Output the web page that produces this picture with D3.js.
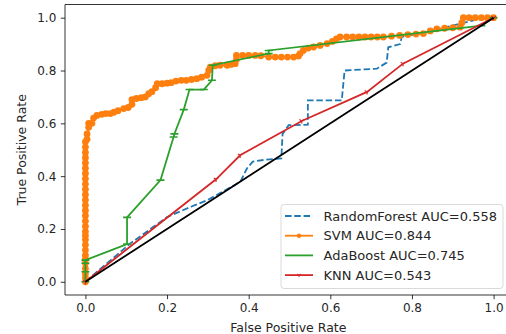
<!DOCTYPE html>
<html>
<head>
<meta charset="utf-8">
<script src="https://cdn.jsdelivr.net/npm/d3@7/dist/d3.min.js"></script>
<style>
  body { margin: 0; background: #fff; }
  svg { display: block; font-family: "DejaVu Sans", sans-serif; }
</style>
</head>
<body>
<script>
// ROC curves
const rfFpr = [0, 0.03, 0.11, 0.2, 0.26, 0.3, 0.37, 0.38, 0.396, 0.41, 0.44, 0.48, 0.483, 0.498, 0.545, 0.545, 0.628, 0.635, 0.714, 0.738, 0.742, 0.771, 0.775, 0.836, 0.967, 1];
const rfTpr = [0, 0.04, 0.145, 0.245, 0.285, 0.31, 0.37, 0.38, 0.43, 0.455, 0.462, 0.467, 0.56, 0.593, 0.595, 0.687, 0.687, 0.8, 0.807, 0.83, 0.888, 0.9, 0.927, 0.946, 0.996, 1];

const svmFpr = [0, 0, 0, 0, 0, 0, 0, 0, 0, 0, 0, 0, 0, 0, 0, 0, 0, 0, 0, 0, 0, 0, 0, 0, 0, 0, 0, 0, 0,
  0.004, 0.004, 0.008, 0.008, 0.016, 0.02, 0.028, 0.04, 0.05, 0.061, 0.07, 0.08, 0.094, 0.105, 0.114, 0.114,
  0.125, 0.137, 0.147, 0.155, 0.163, 0.172, 0.176, 0.188, 0.2, 0.21, 0.222, 0.235, 0.247, 0.26, 0.273, 0.285,
  0.298, 0.302, 0.306, 0.318, 0.33, 0.347, 0.357, 0.367, 0.37, 0.37, 0.385, 0.4, 0.416, 0.43, 0.449, 0.465,
  0.48, 0.495, 0.51, 0.522, 0.526, 0.534, 0.546, 0.559, 0.575, 0.592, 0.605, 0.615, 0.624, 0.64, 0.655, 0.67,
  0.685, 0.7, 0.715, 0.73, 0.75, 0.77, 0.79, 0.81, 0.828, 0.845, 0.861, 0.88, 0.9, 0.918, 0.922, 0.926, 0.94,
  0.955, 0.97, 0.985, 1];
const svmTpr = [0, 0.015, 0.03, 0.05, 0.07, 0.085, 0.1, 0.12, 0.14, 0.16, 0.175, 0.19, 0.21, 0.23, 0.25, 0.27,
  0.29, 0.31, 0.33, 0.35, 0.37, 0.39, 0.41, 0.43, 0.45, 0.47, 0.49, 0.51, 0.53,
  0.54, 0.56, 0.585, 0.6, 0.6, 0.62, 0.63, 0.634, 0.637, 0.637, 0.642, 0.648, 0.656, 0.66, 0.672, 0.69,
  0.694, 0.697, 0.7, 0.712, 0.72, 0.735, 0.75, 0.75, 0.752, 0.754, 0.76, 0.763, 0.763, 0.766, 0.769, 0.775,
  0.782, 0.8, 0.813, 0.818, 0.82, 0.82, 0.823, 0.826, 0.842, 0.857, 0.857, 0.857, 0.857, 0.856, 0.851, 0.851,
  0.851, 0.851, 0.851, 0.855, 0.864, 0.876, 0.885, 0.889, 0.895, 0.902, 0.91, 0.92, 0.927, 0.927, 0.927, 0.927,
  0.927, 0.927, 0.927, 0.927, 0.93, 0.933, 0.936, 0.938, 0.94, 0.95, 0.958, 0.96, 0.962, 0.964, 0.98, 1, 1,
  1, 1, 1, 1];

const adaFpr = [0, 0, 0, 0, 0.102, 0.102, 0.184, 0.216, 0.218, 0.241, 0.255, 0.29, 0.31, 0.312, 0.449, 0.449, 0.97, 1];
const adaTpr = [0, 0.038, 0.07, 0.082, 0.143, 0.244, 0.385, 0.548, 0.56, 0.652, 0.728, 0.728, 0.763, 0.82, 0.864, 0.876, 0.97, 1];

const knnFpr = [0, 0.32, 0.379, 0.53, 0.69, 0.778, 1];
const knnTpr = [0, 0.388, 0.479, 0.609, 0.719, 0.826, 1];

const seriesNames = ['RandomForest AUC=0.558', 'SVM AUC=0.844', 'AdaBoost AUC=0.745', 'KNN AUC=0.543'];
const ticks = [0, 0.2, 0.4, 0.6, 0.8, 1.0];

const W = 506, H = 334;
const plot = { left: 65, top: 4.5, right: 514, bottom: 295 };

const x = d3.scaleLinear().domain([-0.05, 1.05]).range([plot.left, plot.right]);
const y = d3.scaleLinear().domain([-0.05, 1.05]).range([plot.bottom, plot.top]);

const svg = d3.select('body').append('svg').attr('width', W).attr('height', H);

svg.append('clipPath').attr('id', 'clip')
  .append('rect')
  .attr('x', plot.left).attr('y', plot.top)
  .attr('width', plot.right - plot.left).attr('height', plot.bottom - plot.top);

const zip = (a, b) => a.map((v, i) => [v, b[i]]);
const line = d3.line().x(d => x(d[0])).y(d => y(d[1]));

const g = svg.append('g').attr('clip-path', 'url(#clip)');

// RandomForest - dashed blue
g.append('path').datum(zip(rfFpr, rfTpr))
  .attr('d', line).attr('fill', 'none')
  .attr('stroke', '#1f77b4').attr('stroke-width', 1.8)
  .attr('stroke-dasharray', '6.5,2.8');

// SVM - orange with dots
const svmPts = zip(svmFpr, svmTpr);
g.append('path').datum(svmPts)
  .attr('d', line).attr('fill', 'none')
  .attr('stroke', '#ff7f0e').attr('stroke-width', 1.8);
g.selectAll('circle.svm').data(svmPts).join('circle')
  .attr('class', 'svm')
  .attr('cx', d => x(d[0])).attr('cy', d => y(d[1]))
  .attr('r', 3.4).attr('fill', '#ff7f0e');

// AdaBoost - green with horizontal tick markers
const adaPts = zip(adaFpr, adaTpr);
g.append('path').datum(adaPts)
  .attr('d', line).attr('fill', 'none')
  .attr('stroke', '#2ca02c').attr('stroke-width', 1.8);
g.selectAll('line.ada').data(adaPts).join('line')
  .attr('class', 'ada')
  .attr('x1', d => x(d[0]) - 4).attr('x2', d => x(d[0]) + 4)
  .attr('y1', d => y(d[1])).attr('y2', d => y(d[1]))
  .attr('stroke', '#2ca02c').attr('stroke-width', 1.6);

// KNN - red with small tri markers
const knnPts = zip(knnFpr, knnTpr);
g.append('path').datum(knnPts)
  .attr('d', line).attr('fill', 'none')
  .attr('stroke', '#d62728').attr('stroke-width', 1.8);
g.selectAll('path.knn').data(knnPts).join('path')
  .attr('class', 'knn')
  .attr('transform', d => `translate(${x(d[0])},${y(d[1])})`)
  .attr('d', 'M0,0L0,2.6M0,0L-2.3,-1.4M0,0L2.3,-1.4')
  .attr('stroke', '#d62728').attr('stroke-width', 1.2).attr('fill', 'none');

// chance diagonal
g.append('path').datum([[0, 0], [1, 1]])
  .attr('d', line).attr('fill', 'none')
  .attr('stroke', '#000').attr('stroke-width', 1.8);

// spines
const spine = svg.append('g').attr('stroke', '#000').attr('stroke-width', 0.8);
spine.append('line').attr('x1', plot.left).attr('x2', plot.left).attr('y1', plot.top).attr('y2', plot.bottom);
spine.append('line').attr('x1', plot.left).attr('x2', plot.right).attr('y1', plot.bottom).attr('y2', plot.bottom);
spine.append('line').attr('x1', plot.left).attr('x2', plot.right).attr('y1', plot.top).attr('y2', plot.top);

// axes
const fmt = d3.format('.1f');
const xAxis = svg.append('g').attr('transform', `translate(0,${plot.bottom})`)
  .call(d3.axisBottom(x).tickValues(ticks).tickFormat(fmt).tickSize(4.2).tickPadding(4.5));
const yAxis = svg.append('g').attr('transform', `translate(${plot.left},0)`)
  .call(d3.axisLeft(y).tickValues(ticks).tickFormat(fmt).tickSize(4.2).tickPadding(4.5));
[xAxis, yAxis].forEach(a => {
  a.select('.domain').remove();
  a.selectAll('.tick line').attr('stroke', '#000').attr('stroke-width', 0.8);
  a.selectAll('.tick text').attr('fill', '#262626')
    .style('font-family', '"DejaVu Sans", sans-serif').style('font-size', '12px');
});

svg.append('text').attr('x', (plot.left + 493.6) / 2 + 9).attr('y', 332)
  .attr('text-anchor', 'middle').attr('fill', '#262626').style('font-size', '12.5px')
  .text('False Positive Rate');
svg.append('text')
  .attr('transform', `translate(26,${(plot.top + plot.bottom) / 2}) rotate(-90)`)
  .attr('text-anchor', 'middle').attr('fill', '#262626').style('font-size', '12.5px')
  .text('True Positive Rate');

// legend
const leg = svg.append('g');
leg.append('rect').attr('x', 281).attr('y', 204.5).attr('width', 222).attr('height', 84)
  .attr('rx', 3).attr('fill', '#fff').attr('fill-opacity', 0.8)
  .attr('stroke', '#d0d0d0').attr('stroke-width', 0.8);
const legColors = ['#1f77b4', '#ff7f0e', '#2ca02c', '#d62728'];
seriesNames.forEach((name, i) => {
  const ly = 216 + i * 19.7;
  const l = leg.append('line').attr('x1', 285).attr('x2', 313).attr('y1', ly).attr('y2', ly)
    .attr('stroke', legColors[i]).attr('stroke-width', 1.8);
  if (i === 0) l.attr('stroke-dasharray', '6.5,2.8');
  if (i === 1) leg.append('circle').attr('cx', 299).attr('cy', ly).attr('r', 2.2).attr('fill', legColors[i]);
  if (i === 3) leg.append('path').attr('transform', `translate(299,${ly})`)
    .attr('d', 'M0,0L0,2M0,0L-1.8,-1M0,0L1.8,-1')
    .attr('stroke', legColors[i]).attr('stroke-width', 1);
  leg.append('text').attr('x', 323.5).attr('y', ly).attr('dy', '0.35em')
    .attr('fill', '#262626').style('font-size', '13px').text(name);
});
</script>
</body>
</html>
